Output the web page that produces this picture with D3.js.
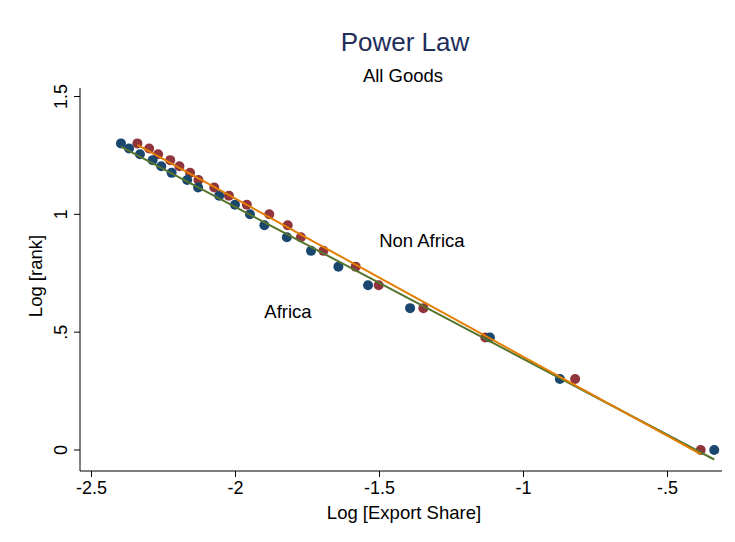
<!DOCTYPE html>
<html><head><meta charset="utf-8">
<script src="https://cdn.jsdelivr.net/npm/d3@7"></script>
<style>body{margin:0;background:#fff}text{font-family:"Liberation Sans",Arial,sans-serif}</style>
</head><body><svg id="c" width="735" height="542"></svg>
<script>
// Log rank (log10 of rank 20..1)
const logRank = [1.301,1.279,1.255,1.230,1.204,1.176,1.146,1.114,1.079,1.041,1.000,0.954,0.903,0.845,0.778,0.699,0.602,0.477,0.301,0.000];
// Log export share, Africa
const africaX = [-2.396,-2.368,-2.330,-2.286,-2.256,-2.220,-2.166,-2.128,-2.055,-2.000,-1.948,-1.898,-1.820,-1.736,-1.641,-1.538,-1.392,-1.115,-0.872,-0.336];
// Log export share, Non Africa
const nonAfricaX = [-2.339,-2.298,-2.267,-2.225,-2.193,-2.156,-2.127,-2.072,-2.021,-1.959,-1.881,-1.817,-1.771,-1.693,-1.581,-1.501,-1.346,-1.131,-0.819,-0.383];
const xTicks = [-2.5,-2,-1.5,-1,-0.5];
const xTickLabels = ["-2.5","-2","-1.5","-1","-.5"];
const yTicks = [0,0.5,1,1.5];
const yTickLabels = ["0",".5","1","1.5"];

const svg = d3.select("#c");
const L=80, R=722, T=88, B=471;
const x = d3.scaleLinear().domain([-2.5,-0.5]).range([91,667]);
const y = d3.scaleLinear().domain([0,1.5]).range([450,96.5]);

const font = '"Liberation Sans",Arial,sans-serif';
// axes
const xa = svg.append("g").attr("transform",`translate(0,${B})`)
  .call(d3.axisBottom(x).tickValues(xTicks).tickFormat((d,i)=>xTickLabels[i]).tickSize(6).tickPadding(4));
xa.select(".domain").attr("d",`M${L},0H${R}`).attr("stroke","#000");
xa.selectAll("text").attr("font-size",18).attr("font-family",font).attr("fill","#000");
const ya = svg.append("g").attr("transform",`translate(${L},0)`)
  .call(d3.axisLeft(y).tickValues(yTicks).tickFormat((d,i)=>yTickLabels[i]).tickSize(6).tickPadding(4));
ya.select(".domain").attr("d",`M0,${B}V${T}`).attr("stroke","#000");
ya.selectAll("text").attr("font-size",18).attr("font-family",font).attr("fill","#000")
  .attr("text-anchor","middle").attr("dy",0)
  .attr("transform",d=>`translate(-13,${y(d)}) rotate(-90)`).attr("x",0).attr("y",0);
ya.selectAll(".tick").attr("transform",null);
ya.selectAll(".tick line").attr("y1",d=>y(d)).attr("y2",d=>y(d));

// titles
svg.append("text").attr("x",405).attr("y",51).attr("text-anchor","middle").attr("font-size",26).attr("fill","#1e2d5a").text("Power Law");
svg.append("text").attr("x",403).attr("y",82).attr("text-anchor","middle").attr("font-size",18.5).attr("fill","#000").text("All Goods");
svg.append("text").attr("x",404).attr("y",519).attr("text-anchor","middle").attr("font-size",18.5).attr("fill","#000").text("Log [Export Share]");
svg.append("text").attr("transform","translate(42,276) rotate(-90)").attr("text-anchor","middle").attr("font-size",18.5).attr("fill","#000").text("Log [rank]");

// points
const africa = africaX.map((v,i)=>({x:v,y:logRank[i]}));
const nonAfrica = nonAfricaX.map((v,i)=>({x:v,y:logRank[i]}));
svg.append("g").selectAll("circle").data(nonAfrica).join("circle")
  .attr("cx",d=>x(d.x)).attr("cy",d=>y(d.y)).attr("r",5).attr("fill","#90353b");
svg.append("g").selectAll("circle").data(africa).join("circle")
  .attr("cx",d=>x(d.x)).attr("cy",d=>y(d.y)).attr("r",5).attr("fill","#1a476f");

// linear fits
function fit(data){
  const mx=d3.mean(data,d=>d.x), my=d3.mean(data,d=>d.y);
  const b=d3.sum(data,d=>(d.x-mx)*(d.y-my))/d3.sum(data,d=>(d.x-mx)**2);
  const a=my-b*mx;
  const [x0,x1]=d3.extent(data,d=>d.x);
  return [{x:x0,y:a+b*x0},{x:x1,y:a+b*x1}];
}
const line=d3.line().x(d=>x(d.x)).y(d=>y(d.y));
svg.append("path").attr("d",line(fit(africa))).attr("stroke","#55752f").attr("stroke-width",2).attr("fill","none");
svg.append("path").attr("d",line(fit(nonAfrica))).attr("stroke","#e37e00").attr("stroke-width",2).attr("fill","none");

// labels
svg.append("text").attr("x",x(-1.351)).attr("y",y(0.886)+6).attr("text-anchor","middle").attr("font-size",18.5).attr("fill","#000").text("Non Africa");
svg.append("text").attr("x",x(-1.816)).attr("y",y(0.586)+6).attr("text-anchor","middle").attr("font-size",18.5).attr("fill","#000").text("Africa");
</script></body></html>
